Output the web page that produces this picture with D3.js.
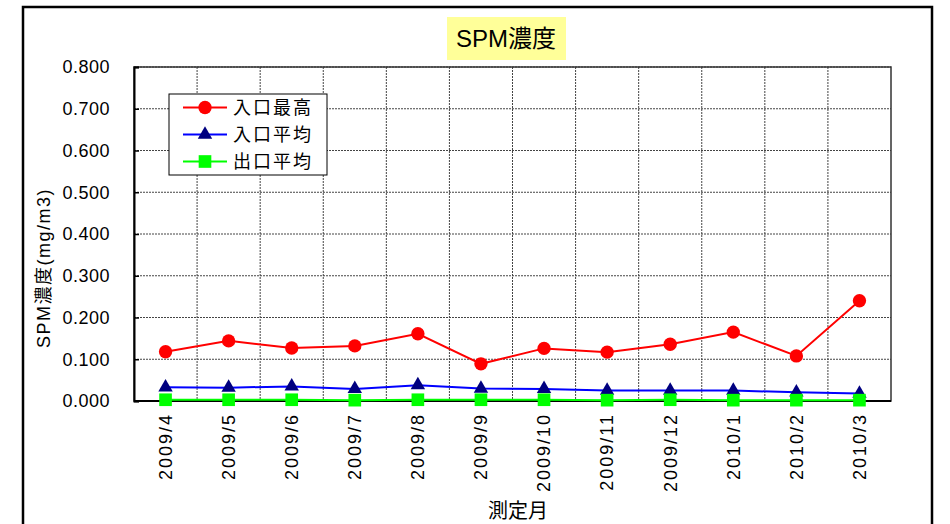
<!DOCTYPE html>
<html lang="ja">
<head>
    <meta charset="UTF-8">
    <title>SPM濃度</title>
    <script src="https://d3js.org/d3.v7.min.js"></script>
    <style>
        body { margin: 0; background: #fff; }
        text { font-family: "Liberation Sans", "Noto Sans CJK JP", sans-serif; fill: #000; }
        .jp { font-family: "Noto Sans CJK JP", sans-serif; }
    </style>
</head>
<body>
    <div id="chart"></div>
    <script>
        // data
        const months = ["2009/4", "2009/5", "2009/6", "2009/7", "2009/8", "2009/9",
                        "2009/10", "2009/11", "2009/12", "2010/1", "2010/2", "2010/3"];
        const inletMax = [0.118, 0.144, 0.127, 0.132, 0.161, 0.089, 0.126, 0.117, 0.136, 0.165, 0.108, 0.240];
        const inletAvg = [0.033, 0.032, 0.035, 0.029, 0.038, 0.030, 0.029, 0.025, 0.025, 0.025, 0.021, 0.018];
        const outletAvg = [0.003, 0.003, 0.003, 0.002, 0.003, 0.003, 0.003, 0.002, 0.003, 0.002, 0.002, 0.002];
        const yTicks = [0, 0.1, 0.2, 0.3, 0.4, 0.5, 0.6, 0.7, 0.8];
        const seriesNames = ["入口最高", "入口平均", "出口平均"];

        const W = 950, H = 524;
        const plot = { left: 134, right: 891, top: 67, bottom: 401 };

        const svg = d3.select("#chart").append("svg")
            .attr("width", W).attr("height", H);

        // outer frame
        svg.append("rect")
            .attr("x", 23).attr("y", 7)
            .attr("width", 909).attr("height", 540)
            .attr("fill", "#fff").attr("stroke", "#000").attr("stroke-width", 2.5);

        const x = d3.scaleBand().domain(months).range([plot.left, plot.right]);
        const y = d3.scaleLinear().domain([0, 0.8]).range([plot.bottom, plot.top]);

        // grid
        const grid = svg.append("g");
        grid.selectAll(".hg").data(yTicks.slice(1)).join("line")
            .attr("x1", plot.left).attr("x2", plot.right)
            .attr("y1", d => y(d)).attr("y2", d => y(d))
            .attr("stroke", "#444").attr("stroke-width", 1).attr("stroke-dasharray", "2,1");
        grid.selectAll(".vg").data(months.slice(1)).join("line")
            .attr("x1", d => x(d)).attr("x2", d => x(d))
            .attr("y1", plot.top).attr("y2", plot.bottom)
            .attr("stroke", "#444").attr("stroke-width", 1).attr("stroke-dasharray", "2,1");

        svg.append("rect")
            .attr("x", plot.left).attr("y", plot.top)
            .attr("width", plot.right - plot.left).attr("height", plot.bottom - plot.top)
            .attr("fill", "none").attr("stroke", "#333").attr("stroke-width", 1.5);

        // y axis (ticks point inward)
        const yAxis = svg.append("g")
            .attr("transform", `translate(${plot.left},0)`)
            .call(d3.axisRight(y).tickValues(yTicks).tickSize(5).tickFormat(""));
        yAxis.select(".domain").attr("stroke", "#000").attr("stroke-width", 2);
        yAxis.selectAll(".tick line").attr("stroke", "#000").attr("stroke-width", 1.5);

        svg.append("g").selectAll("text").data(yTicks).join("text")
            .attr("x", 110).attr("y", d => y(d))
            .attr("dy", "0.35em")
            .attr("text-anchor", "end")
            .style("font-size", "18px")
            .style("letter-spacing", "0.5px")
            .text(d3.format(".3f"));

        // x axis line
        svg.append("line")
            .attr("x1", plot.left).attr("x2", plot.right)
            .attr("y1", plot.bottom).attr("y2", plot.bottom)
            .attr("stroke", "#000").attr("stroke-width", 2);

        svg.append("g").selectAll("text").data(months).join("text")
            .attr("transform", d => `translate(${x(d) + x.bandwidth() / 2},413) rotate(-90)`)
            .attr("dy", "0.35em")
            .attr("text-anchor", "end")
            .style("font-size", "18px")
            .style("letter-spacing", "2px")
            .text(d => d);

        // series
        const cx = d => x(d) + x.bandwidth() / 2;
        const line = d3.line().x(d => cx(d[0])).y(d => y(d[1]));
        const series = [
            { name: seriesNames[0], values: inletMax, stroke: "#ff0000", fill: "#ff0000", shape: d3.symbolCircle, size: 140 },
            { name: seriesNames[1], values: inletAvg, stroke: "#0000ff", fill: "#000080", shape: d3.symbolTriangle, size: 90 },
            { name: seriesNames[2], values: outletAvg, stroke: "#00ff00", fill: "#00ff00", shape: d3.symbolSquare, size: 160 }
        ];

        series.forEach(s => {
            const pts = months.map((m, i) => [m, s.values[i]]);
            svg.append("path")
                .datum(pts)
                .attr("d", line)
                .attr("fill", "none")
                .attr("stroke", s.stroke)
                .attr("stroke-width", 2);
            svg.append("g").selectAll("path").data(pts).join("path")
                .attr("d", d3.symbol().type(s.shape).size(s.size))
                .attr("transform", d => `translate(${cx(d[0])},${y(d[1])})`)
                .attr("fill", s.fill);
        });

        // legend
        const legend = svg.append("g").attr("transform", "translate(169,94)");
        legend.append("rect")
            .attr("width", 158).attr("height", 81)
            .attr("fill", "#fff").attr("stroke", "#000").attr("stroke-width", 1);
        series.forEach((s, i) => {
            const ly = 13.5 + i * 27;
            legend.append("line")
                .attr("x1", 14).attr("x2", 58).attr("y1", ly).attr("y2", ly)
                .attr("stroke", s.stroke).attr("stroke-width", 2);
            legend.append("path")
                .attr("d", d3.symbol().type(s.shape).size(s.size))
                .attr("transform", `translate(36,${ly})`)
                .attr("fill", s.fill);
            legend.append("text")
                .attr("class", "jp")
                .attr("x", 64).attr("y", ly)
                .attr("dy", "0.36em")
                .style("font-size", "18px")
                .style("letter-spacing", "2px")
                .text(s.name);
        });

        // title with yellow box
        svg.append("rect")
            .attr("x", 447).attr("y", 17)
            .attr("width", 119).attr("height", 43)
            .attr("fill", "#ffff99");
        svg.append("text")
            .attr("x", 506).attr("y", 47)
            .attr("text-anchor", "middle")
            .style("font-size", "24px")
            .text("SPM濃度");

        // axis titles
        svg.append("text")
            .attr("transform", "translate(50,268) rotate(-90)")
            .attr("text-anchor", "middle")
            .style("font-size", "18px")
            .style("letter-spacing", "1.5px")
            .text("SPM濃度(mg/m3)");
        svg.append("text")
            .attr("class", "jp")
            .attr("x", 518).attr("y", 518)
            .attr("text-anchor", "middle")
            .style("font-size", "20px")
            .text("測定月");
    </script>
</body>
</html>
